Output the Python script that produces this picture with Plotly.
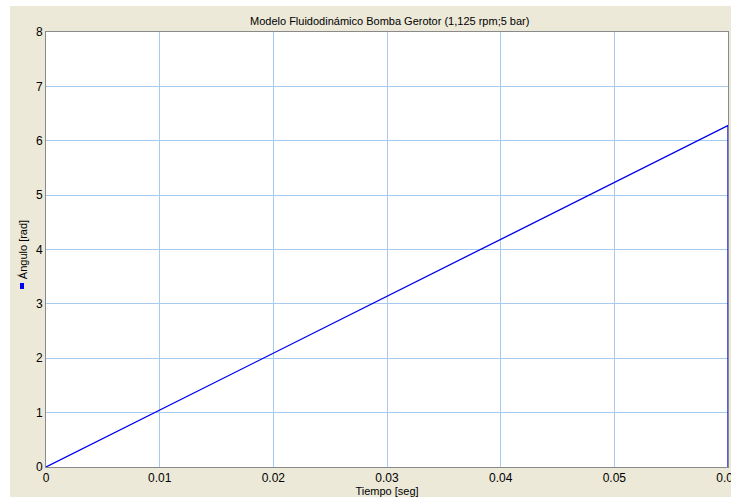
import plotly.graph_objects as go

# Data
tiempo = [0.0, 0.06, 0.06]
angulo = [0.0, 6.28, 0.0]

x_ticks = [0, 0.01, 0.02, 0.03, 0.04, 0.05, 0.06]
x_labels = ["0", "0.01", "0.02", "0.03", "0.04", "0.05", "0.06"]
y_ticks = [0, 1, 2, 3, 4, 5, 6, 7, 8]

W, H = 731, 497
L, R, T, B = 46, 3, 32, 30
pw, ph = W - L - R, H - T - B

def px_x(p):  # figure pixel -> paper
    return (p - L) / pw

def px_y(p):
    return (H - B - p) / ph

beige = "#ECE9D8"
grid = "#A6CAF0"

fig = go.Figure()
fig.add_trace(go.Scatter(x=tiempo, y=angulo, mode="lines",
                         line=dict(color="#0000F0", width=1.3),
                         showlegend=False, cliponaxis=False))

fig.update_layout(
    width=W, height=H,
    margin=dict(l=L, r=R, t=T, b=B, autoexpand=False),
    paper_bgcolor="white",
    plot_bgcolor="white",
    font=dict(family="Liberation Sans, Arial, sans-serif", size=12, color="#000000"),
    title=dict(text="Modelo Fluidodinámico Bomba Gerotor (1,125 rpm;5 bar)",
               x=0.504, xref="paper", xanchor="center",
               y=1 - 21 / H, yanchor="middle",
               font=dict(size=11)),
    xaxis=dict(range=[0, 0.06], tickvals=x_ticks, ticktext=x_labels,
               automargin=False, ticklabeloverflow="allow",
               showgrid=True, gridcolor=grid, gridwidth=1,
               zeroline=False, showline=True, linecolor="#8A8A8A", linewidth=1,
               mirror=True, ticks="", ticklen=0,
               title=dict(text="Tiempo [seg]", font=dict(size=11), standoff=2),
               tickfont=dict(size=12)),
    yaxis=dict(range=[0, 8], tickvals=y_ticks,
               automargin=False,
               showgrid=True, gridcolor=grid, gridwidth=1,
               zeroline=False, showline=True, linecolor="#8A8A8A", linewidth=1,
               mirror=True, ticks="", ticklen=0,
               title=dict(text="Ángulo [rad]", font=dict(size=11), standoff=6),
               tickfont=dict(size=12)),
    shapes=[
        dict(type="rect", xref="paper", yref="paper", layer="below",
             x0=px_x(10), x1=px_x(W + 5), y0=px_y(H + 5), y1=px_y(6),
             fillcolor=beige, line=dict(width=0)),
        dict(type="rect", xref="paper", yref="paper", layer="below",
             x0=0, x1=1, y0=0, y1=1,
             fillcolor="white", line=dict(width=0)),
        dict(type="rect", xref="paper", yref="paper", layer="above",
             x0=px_x(20), x1=px_x(24), y0=px_y(289), y1=px_y(283),
             fillcolor="#0000F0", line=dict(width=0)),
    ],
)

fig.write_html(
    "out.html",
    config={"displayModeBar": False},
    post_script="document.body.style.margin='0';document.body.style.overflow='hidden';",
)
